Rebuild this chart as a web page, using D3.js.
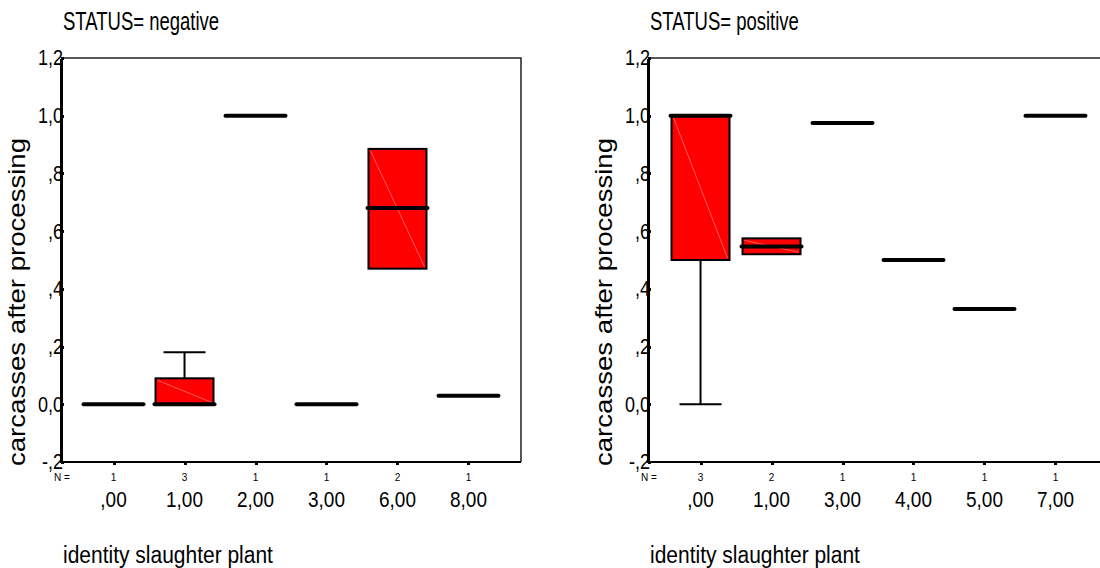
<!DOCTYPE html>
<html lang="en">
<head>
<meta charset="utf-8">
<title>carcasses after processing by slaughter plant</title>
<script src="https://cdn.jsdelivr.net/npm/d3@7"></script>
<style>
    body { margin: 0; background: #fff; }
    svg { font-family: "Liberation Sans", Arial, sans-serif; }
    .axis path, .axis line { fill: none; stroke: #000; shape-rendering: crispEdges; }
</style>
</head>
<body>
<div id="chart"></div>
<script>
// y axis tick values and their labels (comma decimals)
var yTicks = [-0.2, 0, 0.2, 0.4, 0.6, 0.8, 1.0, 1.2];
var yTickLabels = ["-,2", "0,0", ",2", ",4", ",6", ",8", "1,0", "1,2"];

// STATUS = negative
var negPlants = [",00", "1,00", "2,00", "3,00", "6,00", "8,00"];
var negN      = [1, 3, 1, 1, 2, 1];
var negLow    = [0.0, 0.0,  1.0, 0.0, 0.47,  0.03];
var negQ1     = [0.0, 0.0,  1.0, 0.0, 0.47,  0.03];
var negMed    = [0.0, 0.0,  1.0, 0.0, 0.68,  0.03];
var negQ3     = [0.0, 0.09, 1.0, 0.0, 0.885, 0.03];
var negHigh   = [0.0, 0.18, 1.0, 0.0, 0.885, 0.03];

// STATUS = positive
var posPlants = [",00", "1,00", "3,00", "4,00", "5,00", "7,00"];
var posN      = [3, 2, 1, 1, 1, 1];
var posLow    = [0.0, 0.52,  0.975, 0.5, 0.33, 1.0];
var posQ1     = [0.5, 0.52,  0.975, 0.5, 0.33, 1.0];
var posMed    = [1.0, 0.547, 0.975, 0.5, 0.33, 1.0];
var posQ3     = [1.0, 0.575, 0.975, 0.5, 0.33, 1.0];
var posHigh   = [1.0, 0.575, 0.975, 0.5, 0.33, 1.0];

var width = 1100, height = 568;
var plotW = 460, plotTop = 58, plotBottom = 462;
var boxW = 58, capW = 42;

var svg = d3.select("#chart").append("svg")
    .attr("width", width)
    .attr("height", height);

var y = d3.scaleLinear().domain([-0.2, 1.2]).range([plotBottom, plotTop]);

function panel(x0, title, plants, n, low, q1, med, q3, high) {
    var g = svg.append("g");
    var x = d3.scalePoint().domain(plants).range([x0, x0 + plotW]).padding(0.74);

    var rows = plants.map(function(p, i) {
        return {plant: p, n: n[i], low: low[i], q1: q1[i], med: med[i], q3: q3[i], high: high[i]};
    });

    // frame: top and right edges
    g.append("path")
        .attr("d", "M" + x0 + "," + plotTop + "H" + (x0 + plotW) + "V" + plotBottom)
        .attr("fill", "none")
        .attr("stroke", "#222")
        .attr("stroke-width", 1.5);

    // whiskers
    var wk = g.selectAll(".whisker").data(rows.filter(function(d) { return d.high > d.q3 || d.low < d.q1; }))
        .enter().append("g").attr("class", "whisker")
        .attr("stroke", "#000").attr("stroke-width", 2);
    wk.filter(function(d) { return d.high > d.q3; }).each(function(d) {
        var s = d3.select(this), cx = x(d.plant);
        s.append("line").attr("x1", cx).attr("x2", cx).attr("y1", y(d.q3)).attr("y2", y(d.high));
        s.append("line").attr("x1", cx - capW / 2).attr("x2", cx + capW / 2).attr("y1", y(d.high)).attr("y2", y(d.high));
    });
    wk.filter(function(d) { return d.low < d.q1; }).each(function(d) {
        var s = d3.select(this), cx = x(d.plant);
        s.append("line").attr("x1", cx).attr("x2", cx).attr("y1", y(d.q1)).attr("y2", y(d.low));
        s.append("line").attr("x1", cx - capW / 2).attr("x2", cx + capW / 2).attr("y1", y(d.low)).attr("y2", y(d.low));
    });

    // boxes
    var boxes = rows.filter(function(d) { return d.q3 > d.q1; });
    g.selectAll(".box").data(boxes).enter().append("rect")
        .attr("class", "box")
        .attr("x", function(d) { return x(d.plant) - boxW / 2; })
        .attr("y", function(d) { return y(d.q3); })
        .attr("width", boxW)
        .attr("height", function(d) { return y(d.q1) - y(d.q3); })
        .attr("fill", "#ff0000")
        .attr("stroke", "#000")
        .attr("stroke-width", 2);

    // faint diagonal inside each box
    g.selectAll(".diag").data(boxes).enter().append("line")
        .attr("x1", function(d) { return x(d.plant) - boxW / 2 + 2; })
        .attr("y1", function(d) { return y(d.q3) + 2; })
        .attr("x2", function(d) { return x(d.plant) + boxW / 2 - 2; })
        .attr("y2", function(d) { return y(d.q1) - 2; })
        .attr("stroke", "#ff9a9a")
        .attr("stroke-width", 0.6);

    // medians
    g.selectAll(".median").data(rows).enter().append("line")
        .attr("class", "median")
        .attr("x1", function(d) { return x(d.plant) - boxW / 2 - 1; })
        .attr("x2", function(d) { return x(d.plant) + boxW / 2 + 1; })
        .attr("y1", function(d) { return y(d.med); })
        .attr("y2", function(d) { return y(d.med); })
        .attr("stroke", "#000")
        .attr("stroke-width", 4)
        .attr("stroke-linecap", "round");

    // y axis
    var yAxis = d3.axisLeft(y)
        .tickValues(yTicks)
        .tickSizeInner(-3)
        .tickSizeOuter(0)
        .tickPadding(-2)
        .tickFormat(function(d, i) { return yTickLabels[i]; });
    var ya = g.append("g").attr("class", "axis")
        .attr("transform", "translate(" + x0 + ",0)")
        .call(yAxis);
    ya.attr("font-family", null).attr("font-size", null);
    ya.select(".domain").attr("stroke-width", 2.5);
    ya.selectAll(".tick line").attr("stroke-width", 3);
    ya.selectAll(".tick text")
        .style("font-size", "18px")
        .attr("fill", "#000")
        .attr("transform", "scale(1,1.2)")
        .lower();

    // x axis, labels drawn below as separate rows
    var xAxis = d3.axisBottom(x).tickSizeInner(3).tickSizeOuter(0).tickFormat("");
    var xa = g.append("g").attr("class", "axis")
        .attr("transform", "translate(0," + plotBottom + ")")
        .call(xAxis);
    xa.select(".domain").attr("stroke-width", 2.5)
        .attr("d", "M" + (x0 - 1) + ",0H" + (x0 + plotW));
    xa.selectAll(".tick line").attr("stroke-width", 3);

    // N = counts
    g.append("text")
        .attr("x", x0 + 1).attr("y", 481)
        .attr("text-anchor", "middle")
        .style("font-size", "10px")
        .text("N =");
    g.selectAll(".ncount").data(rows).enter().append("text")
        .attr("x", function(d) { return x(d.plant); })
        .attr("y", 481)
        .attr("text-anchor", "middle")
        .style("font-size", "10px")
        .text(function(d) { return d.n; });

    // plant labels
    g.selectAll(".plant").data(rows).enter().append("text")
        .attr("transform", function(d) { return "translate(" + x(d.plant) + ",507) scale(1,1.15)"; })
        .attr("text-anchor", "middle")
        .style("font-size", "19px")
        .text(function(d) { return d.plant; });

    // titles (slightly tall lettering)
    g.append("text")
        .attr("transform", "translate(" + (x0 + 2) + ",30) scale(1,1.4)")
        .style("font-size", "18.5px")
        .text(title);

    g.append("text")
        .attr("transform", "translate(" + (x0 + 2) + ",563) scale(1,1.15)")
        .style("font-size", "21px")
        .text("identity slaughter plant");

    g.append("text")
        .attr("transform", "translate(" + (x0 - 36) + ",302) rotate(-90) scale(1.2,1)")
        .attr("text-anchor", "middle")
        .style("font-size", "23px")
        .text("carcasses after processing");
}

panel(61, "STATUS= negative", negPlants, negN, negLow, negQ1, negMed, negQ3, negHigh);
panel(648, "STATUS= positive", posPlants, posN, posLow, posQ1, posMed, posQ3, posHigh);
</script>
</body>
</html>
